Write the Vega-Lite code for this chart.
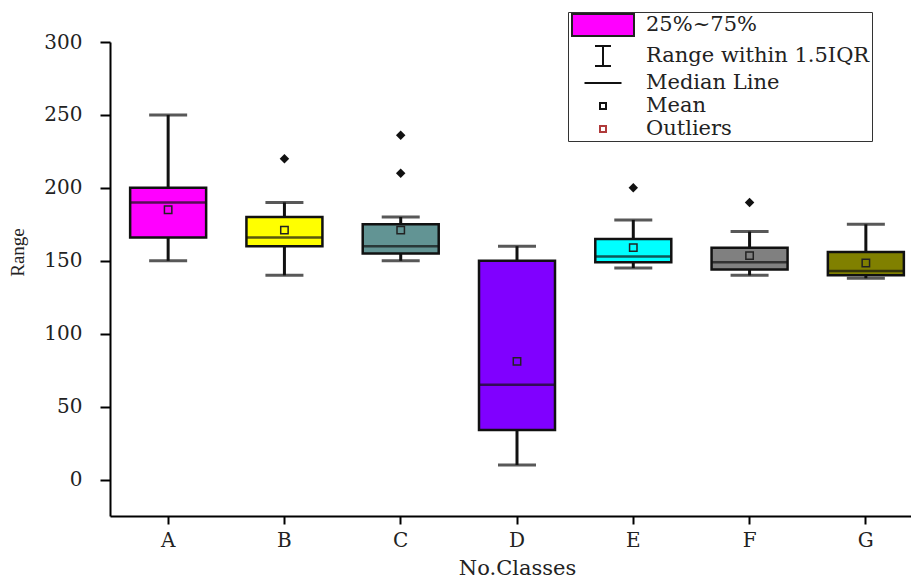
{
  "$schema": "https://vega.github.io/schema/vega-lite/v6.json",
  "width": 801,
  "height": 474,
  "autosize": {"type": "none"},
  "padding": {"left": 110, "top": 42, "right": 0, "bottom": 64},
  "background": "white",
  "config": {"view": {"stroke": null}, "font": "DejaVu Serif"},
  "datasets": {
    "boxes": [
      {"cls": "A", "lo": 150, "q1": 166, "med": 190, "q3": 200, "hi": 250, "mean": 185},
      {"cls": "B", "lo": 140, "q1": 160, "med": 166, "q3": 180, "hi": 190, "mean": 171},
      {"cls": "C", "lo": 150, "q1": 155, "med": 160, "q3": 175, "hi": 180, "mean": 171},
      {"cls": "D", "lo": 10, "q1": 34, "med": 65, "q3": 150, "hi": 160, "mean": 81},
      {"cls": "E", "lo": 145, "q1": 149, "med": 153, "q3": 165, "hi": 178, "mean": 159},
      {"cls": "F", "lo": 140, "q1": 144, "med": 149, "q3": 159, "hi": 170, "mean": 153.5},
      {"cls": "G", "lo": 138, "q1": 140, "med": 143, "q3": 156, "hi": 175, "mean": 148.5}
    ],
    "outliers": [
      {"cls": "B", "value": 220},
      {"cls": "C", "value": 236},
      {"cls": "C", "value": 210},
      {"cls": "E", "value": 200},
      {"cls": "F", "value": 190}
    ],
    "legend": []
  },
  "encoding": {
    "x": {
      "field": "cls",
      "type": "nominal",
      "title": "No.Classes",
      "scale": {"domain": ["A", "B", "C", "D", "E", "F", "G"], "range": [0, 814], "paddingInner": 0, "paddingOuter": 0},
      "axis": {
        "labelAngle": 0,
        "domainColor": "black",
        "domainWidth": 2,
        "tickColor": "black",
        "tickWidth": 2,
        "tickSize": 8,
        "labelFont": "DejaVu Serif",
        "labelFontSize": 20,
        "labelColor": "#222",
        "labelPadding": 6,
        "titleFont": "DejaVu Serif",
        "titleFontSize": 21,
        "titleFontWeight": "normal",
        "titleColor": "#222",
        "titlePadding": 7
      }
    }
  },
  "layer": [
    {
      "data": {"name": "boxes"},
      "mark": {"type": "rule", "color": "#111", "strokeWidth": 3},
      "encoding": {
        "y": {
          "field": "lo",
          "type": "quantitative",
          "title": "Range",
          "scale": {"domain": [-25, 300], "nice": false, "zero": false},
          "axis": {
            "values": [0, 25, 50, 75, 100, 125, 150, 175, 200, 225, 250, 275, 300],
            "labelExpr": "datum.value % 50 === 0 ? datum.label : ''",
            "grid": false,
            "domainColor": "black",
            "domainWidth": 2,
            "tickColor": "black",
            "tickWidth": 2,
            "tickSize": 10,
            "labelFont": "DejaVu Serif",
            "labelFontSize": 20,
            "labelColor": "#222",
            "labelPadding": 18,
            "titleFont": "Liberation Serif",
            "titleFontSize": 19,
            "titleFontWeight": "normal",
            "titleColor": "#222",
            "titleX": -83,
            "titleY": 210
          }
        },
        "y2": {"field": "hi"}
      }
    },
    {
      "data": {"name": "boxes"},
      "mark": {"type": "tick", "color": "#111", "thickness": 3, "size": 38},
      "encoding": {
        "y": {"field": "lo", "type": "quantitative", "title": "Range", "scale": {"domain": [-25, 300], "nice": false, "zero": false}}
      }
    },
    {
      "data": {"name": "boxes"},
      "mark": {"type": "tick", "color": "#111", "thickness": 3, "size": 38},
      "encoding": {
        "y": {"field": "hi", "type": "quantitative", "title": "Range", "scale": {"domain": [-25, 300], "nice": false, "zero": false}}
      }
    },
    {
      "data": {"name": "boxes"},
      "mark": {"type": "bar", "size": 76, "stroke": "#111", "strokeWidth": 2.5, "opacity": 1},
      "encoding": {
        "y": {"field": "q1", "type": "quantitative", "title": "Range", "scale": {"domain": [-25, 300], "nice": false, "zero": false}},
        "y2": {"field": "q3"},
        "color": {
          "field": "cls",
          "type": "nominal",
          "legend": null,
          "scale": {"domain": ["A", "B", "C", "D", "E", "F", "G"], "range": ["#FF00FF", "#FFFF00", "#629494", "#8000FF", "#00FFFF", "#808080", "#808000"]}
        }
      }
    },
    {
      "data": {"name": "boxes"},
      "mark": {"type": "tick", "color": "#111", "thickness": 2.5, "size": 76},
      "encoding": {
        "y": {"field": "med", "type": "quantitative", "title": "Range", "scale": {"domain": [-25, 300], "nice": false, "zero": false}}
      }
    },
    {
      "data": {"name": "boxes"},
      "mark": {"type": "point", "shape": "square", "filled": true, "size": 55, "stroke": "#222", "strokeWidth": 1.5, "opacity": 1},
      "encoding": {
        "y": {"field": "mean", "type": "quantitative", "title": "Range", "scale": {"domain": [-25, 300], "nice": false, "zero": false}},
        "color": {"field": "cls", "type": "nominal", "legend": null}
      }
    },
    {
      "data": {"name": "outliers"},
      "mark": {"type": "point", "shape": "diamond", "filled": true, "size": 90, "color": "#111", "opacity": 1},
      "encoding": {
        "y": {"field": "value", "type": "quantitative", "title": "Range", "scale": {"domain": [-25, 300], "nice": false, "zero": false}}
      }
    },
    {
      "data": {"name": "legend"},
      "mark": {"type": "point", "size": 400, "strokeWidth": 2, "opacity": 1},
      "encoding": {
        "shape": {
          "field": "item",
          "type": "nominal",
          "title": null,
          "scale": {
            "domain": ["25%~75%", "Range within 1.5IQR", "Median Line", "Mean", "Outliers"],
            "range": ["M-3.1,-1.1H3.1V1.1H-3.1Z", "M-0.8,-1H0.8M0,-1V1M-0.8,1H0.8", "M-1.85,0H1.85", "M-0.3,-0.3H0.3V0.3H-0.3Z", "M-0.3,-0.3H0.3V0.3H-0.3Z"]
          },
          "legend": {
            "orient": "none",
            "legendX": 458,
            "legendY": -30,
            "strokeColor": "#333",
            "padding": 2,
            "symbolSize": 400,
            "symbolStrokeWidth": 2,
            "symbolOpacity": 1,
            "symbolOffset": 22,
            "labelOffset": 32,
            "labelFont": "DejaVu Serif",
            "labelFontSize": 21,
            "labelColor": "#222",
            "labelLimit": 400,
            "rowPadding": 2
          }
        },
        "fill": {
          "field": "item",
          "type": "nominal",
          "title": null,
          "scale": {
            "domain": ["25%~75%", "Range within 1.5IQR", "Median Line", "Mean", "Outliers"],
            "range": ["#FF00FF", "transparent", "transparent", "white", "white"]
          }
        },
        "stroke": {
          "field": "item",
          "type": "nominal",
          "title": null,
          "scale": {
            "domain": ["25%~75%", "Range within 1.5IQR", "Median Line", "Mean", "Outliers"],
            "range": ["#222", "#111", "#111", "#111", "#b03a3a"]
          }
        }
      }
    }
  ]
}
